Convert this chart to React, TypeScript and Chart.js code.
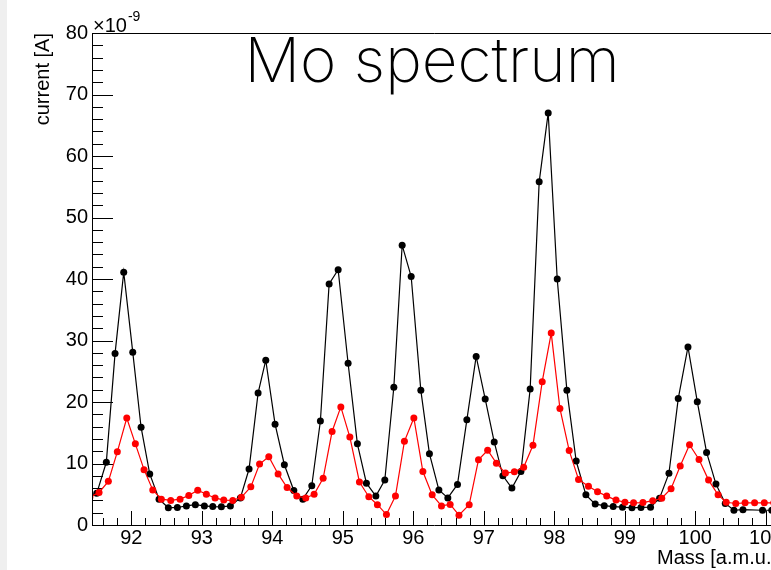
import React, { useEffect, useRef } from "react";
import { Chart, registerables } from "chart.js";

Chart.register(...registerables);

// ---- data (current in units of 1e-9 A) ----
const blackMass = [
  91.378, 91.509, 91.645, 91.769, 91.892, 92.02, 92.138, 92.261, 92.393, 92.525,
  92.653, 92.781, 92.908, 93.036, 93.155, 93.277, 93.405, 93.547, 93.67, 93.798,
  93.907, 94.039, 94.171, 94.305, 94.433, 94.56, 94.682, 94.806, 94.934, 95.075,
  95.207, 95.335, 95.469, 95.596, 95.724, 95.842, 95.97, 96.107, 96.229, 96.363,
  96.49, 96.627, 96.76, 96.892, 97.02, 97.148, 97.271, 97.399, 97.527, 97.658,
  97.786, 97.914, 98.042, 98.179, 98.311, 98.449, 98.581, 98.709, 98.836, 98.968,
  99.102, 99.23, 99.366, 99.494, 99.627, 99.759, 99.897, 100.029, 100.161, 100.294,
  100.426, 100.549, 100.677, 100.955, 101.086,
];
const blackCurrent = [
  4.4, 5.15, 10.2, 27.9, 41.1, 28.1, 15.9, 8.3, 4.2, 2.8,
  2.85, 3.1, 3.3, 3.1, 3.0, 2.95, 3.1, 4.4, 9.1, 21.45,
  26.8, 16.4, 9.8, 5.6, 4.2, 6.4, 16.9, 39.2, 41.5, 26.3,
  13.2, 6.8, 4.7, 7.3, 22.4, 45.5, 40.4, 21.9, 11.6, 5.7,
  4.4, 6.6, 17.1, 27.4, 20.5, 13.5, 8.0, 6.0, 8.7, 22.1,
  55.8, 67.0, 40.0, 21.9, 10.4, 4.9, 3.4, 3.15, 3.0, 2.9,
  2.8, 2.85, 2.9, 4.35, 8.4, 20.55, 28.95, 20.05, 11.8, 6.65,
  3.5, 2.4, 2.5, 2.4, 2.4,
];
const redMass = [
  91.412, 91.542, 91.674, 91.801, 91.935, 92.057, 92.18, 92.304, 92.426, 92.559,
  92.691, 92.815, 92.942, 93.064, 93.188, 93.311, 93.439, 93.561, 93.695, 93.819,
  93.95, 94.082, 94.21, 94.347, 94.475, 94.593, 94.721, 94.848, 94.972, 95.1,
  95.236, 95.369, 95.491, 95.619, 95.747, 95.874, 96.008, 96.136, 96.268, 96.4,
  96.523, 96.648, 96.793, 96.925, 97.055, 97.179, 97.307, 97.434, 97.566, 97.698,
  97.829, 97.957, 98.08, 98.212, 98.344, 98.485, 98.614, 98.744, 98.876, 99.003,
  99.125, 99.258, 99.397, 99.525, 99.657, 99.787, 99.919, 100.054, 100.189, 100.324,
  100.44, 100.575, 100.707, 100.842, 100.98, 101.114,
];
const redCurrent = [
  4.55, 5.3, 7.1, 11.9, 17.4, 13.2, 9.0, 5.7, 4.2, 4.0,
  4.2, 4.8, 5.65, 5.0, 4.4, 4.05, 4.0, 4.5, 6.2, 9.9,
  11.1, 8.3, 6.1, 4.7, 4.4, 5.0, 7.6, 15.2, 19.2, 14.3,
  7.0, 4.6, 3.3, 1.7, 4.7, 13.6, 17.4, 8.7, 4.9, 3.1,
  3.35, 1.6, 3.3, 10.6, 12.15, 10.05, 8.45, 8.65, 9.4, 12.95,
  23.3, 31.2, 18.95, 12.1, 7.4, 6.3, 5.4, 4.7, 4.05, 3.7,
  3.6, 3.65, 3.95, 4.35, 5.9, 9.6, 13.05, 10.65, 7.3, 4.9,
  3.7, 3.5, 3.6, 3.6, 3.6, 3.6,
];

const X_RANGE = [91.456, 101.16];
const Y_RANGE = [0, 80];
const X_STEPS = [1, 0.2]; // major, minor
const Y_STEPS = [10, 2];

const TITLE = "Mo spectrum";
const X_TITLE = "Mass [a.m.u.]";
const Y_TITLE = "current [A]";
const EXP_BASE = "\u00d710";
const EXP_POWER = "-9";

const FONT = "'Liberation Sans', Arial, Helvetica, sans-serif";
const CANVAS_W = 800;
const CANVAS_H = 570;

const rootAxesPlugin = {
  id: "rootAxes",
  beforeDatasetsDraw(chart: any) {
    const { ctx, chartArea, scales } = chart;
    const { left, right, top, bottom } = chartArea;
    const xs = scales.x;
    const ys = scales.y;
    ctx.save();
    ctx.strokeStyle = "#000";
    ctx.lineWidth = 1;
    ctx.beginPath();
    // frame
    ctx.moveTo(left - 0.5, top + 0.5);
    ctx.lineTo(right, top + 0.5);
    ctx.moveTo(left - 0.5, top);
    ctx.lineTo(left - 0.5, bottom + 1);
    ctx.moveTo(left - 1, bottom + 0.5);
    ctx.lineTo(right, bottom + 0.5);
    // x ticks
    const xMinorCount = Math.round((xs.max - xs.min) / X_STEPS[1]) + 2;
    const xStart = Math.ceil(xs.min / X_STEPS[1] - 1e-6);
    for (let k = xStart; k < xStart + xMinorCount; k++) {
      const v = k * X_STEPS[1];
      if (v > xs.max) break;
      const px = Math.round(xs.getPixelForValue(v)) + 0.5;
      const isMajor = Math.abs(v / X_STEPS[0] - Math.round(v / X_STEPS[0])) < 1e-6;
      const len = isMajor ? 14 : 7;
      ctx.moveTo(px, bottom);
      ctx.lineTo(px, bottom - len);
    }
    // y ticks
    const yStart = Math.ceil(ys.min / Y_STEPS[1] - 1e-6);
    for (let k = yStart; k * Y_STEPS[1] <= ys.max + 1e-6; k++) {
      const v = k * Y_STEPS[1];
      const py = Math.round(ys.getPixelForValue(v)) + 0.5;
      const isMajor = Math.abs(v / Y_STEPS[0] - Math.round(v / Y_STEPS[0])) < 1e-6;
      const len = isMajor ? 20 : 10;
      ctx.moveTo(left, py);
      ctx.lineTo(left + len, py);
    }
    ctx.stroke();
    ctx.restore();
  },
  afterDraw(chart: any) {
    const { ctx, chartArea } = chart;
    ctx.save();
    ctx.fillStyle = "#000";
    // title
    ctx.font = "250 62px Inter, Roboto, 'Open Sans', sans-serif";
    ctx.textAlign = "center";
    ctx.textBaseline = "alphabetic";
    ctx.fillText(TITLE, 432, 82);
    // exponent
    ctx.textAlign = "left";
    ctx.font = `20px ${FONT}`;
    ctx.fillText(EXP_BASE, chartArea.left, 32);
    const w = ctx.measureText(EXP_BASE).width;
    ctx.font = `14px ${FONT}`;
    ctx.fillText(EXP_POWER, chartArea.left + w + 1, 21);
    ctx.restore();
  },
};

export default function App() {
  const canvasRef = useRef<HTMLCanvasElement | null>(null);

  useEffect(() => {
    const canvas = canvasRef.current;
    if (!canvas) return;
    document.body.style.overflow = "hidden";
    const chart = new Chart(canvas, {
      type: "line",
      data: {
        datasets: [
          {
            label: "red",
            data: redMass.map((m, i) => ({ x: m, y: redCurrent[i] })),
            borderColor: "#ff0000",
            backgroundColor: "#ff0000",
            pointBackgroundColor: "#ff0000",
            pointBorderWidth: 0,
            pointRadius: 3.5,
            borderWidth: 1.2,
            tension: 0,
          },
          {
            label: "black",
            data: blackMass.map((m, i) => ({ x: m, y: blackCurrent[i] })),
            borderColor: "#000000",
            backgroundColor: "#000000",
            pointBackgroundColor: "#000000",
            pointBorderWidth: 0,
            pointRadius: 3.5,
            borderWidth: 1.2,
            tension: 0,
          },
        ],
      },
      options: {
        responsive: false,
        animation: false,
        devicePixelRatio: 1,
        layout: { padding: { left: 0, top: 33, right: CANVAS_W - 777, bottom: 0 } },
        plugins: {
          legend: { display: false },
          tooltip: { enabled: false },
          title: { display: false },
        },
        scales: {
          x: {
            type: "linear",
            min: X_RANGE[0],
            max: X_RANGE[1],
            afterFit: (s: any) => {
              s.height = CANVAS_H - 525;
            },
            grid: { display: false, drawTicks: false },
            border: { display: false },
            ticks: {
              stepSize: X_STEPS[0],
              includeBounds: false,
              autoSkip: false,
              maxRotation: 0,
              padding: 1,
              color: "#000",
              font: { family: FONT, size: 20 },
            },
            title: {
              display: true,
              text: X_TITLE,
              align: "end",
              color: "#000",
              padding: { top: 0, bottom: 0 },
              font: { family: FONT, size: 20 },
            },
          },
          y: {
            type: "linear",
            min: Y_RANGE[0],
            max: Y_RANGE[1],
            afterFit: (s: any) => {
              s.width = 93;
            },
            grid: { display: false, drawTicks: false },
            border: { display: false },
            ticks: {
              stepSize: Y_STEPS[0],
              padding: 5,
              color: "#000",
              font: { family: FONT, size: 20 },
            },
            title: {
              display: true,
              text: Y_TITLE,
              align: "end",
              color: "#000",
              padding: { top: 31, bottom: 0 },
              font: { family: FONT, size: 20 },
            },
          },
        },
      },
      plugins: [rootAxesPlugin],
    });
    return () => chart.destroy();
  }, []);

  return (
    <div
      style={{
        position: "fixed",
        left: 0,
        top: 0,
        width: 771,
        height: 570,
        overflow: "hidden",
        background: "#fff",
      }}
    >
      <canvas
        ref={canvasRef}
        width={CANVAS_W}
        height={CANVAS_H}
        style={{ display: "block", width: CANVAS_W, height: CANVAS_H }}
      />
      <div
        style={{
          position: "absolute",
          left: 0,
          top: 0,
          width: 7,
          height: 570,
          background: "#efefef",
        }}
      />
    </div>
  );
}
